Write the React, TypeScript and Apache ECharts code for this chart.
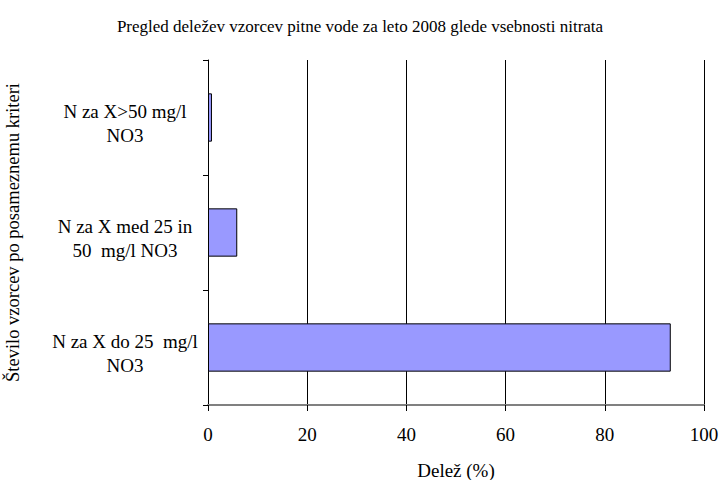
import React, { useEffect, useRef } from "react";
import * as echarts from "echarts";

const categories = [
  "N za X do 25  mg/l\nNO3",
  "N za X med 25 in\n50  mg/l NO3",
  "N za X>50 mg/l\nNO3",
];
const values = [93.3, 5.9, 0.8];
const titleText = "Pregled deležev vzorcev pitne vode za leto 2008 glede vsebnosti nitrata";
const xName = "Delež (%)";
const yName = "Število vzorcev po posameznemu kriteri";

const FONT = "'Liberation Serif', 'DejaVu Serif', serif";
const txt = (size: number) => ({
  fontFamily: FONT,
  fontSize: size,
  fontWeight: "normal" as const,
  fontStyle: "normal" as const,
  color: "#000",
});

export default function App() {
  const ref = useRef<HTMLDivElement>(null);
  useEffect(() => {
    document.body.style.margin = "0";
    if (!ref.current) return;
    const chart = echarts.init(ref.current, undefined, { renderer: "svg" });
    chart.setOption({
      animation: false,
      backgroundColor: "#ffffff",
      textStyle: { fontFamily: FONT },
      title: {
        text: titleText,
        left: "center",
        top: 13,
        textStyle: txt(17),
      },
      grid: { left: 208, right: 16, top: 60, bottom: 75, outerBoundsMode: "none", containLabel: false },
      xAxis: {
        type: "value",
        min: 0,
        max: 100,
        interval: 20,
        name: xName,
        nameLocation: "middle",
        nameGap: 56,
        nameTextStyle: txt(19),
        axisLine: { show: true, lineStyle: { color: "#808080", width: 2 } },
        axisTick: { show: true, length: 6, lineStyle: { color: "#000" } },
        axisLabel: { ...txt(19), margin: 20 },
        splitLine: { show: true, lineStyle: { color: "#000", width: 1 } },
      },
      yAxis: {
        type: "category",
        data: categories,
        name: yName,
        nameLocation: "middle",
        nameGap: 186,
        nameRotate: 90,
        nameTextStyle: txt(18.5),
        axisLine: { show: true, lineStyle: { color: "#000", width: 1 } },
        axisTick: { show: true, length: 5, lineStyle: { color: "#000" } },
        axisLabel: {
          ...txt(19),
          align: "center",
          margin: 83,
          formatter: (v: string) =>
            "{s| }\n" + v.split("\n").map((l) => `{t|${l}}`).join("\n"),
          rich: {
            s: { fontSize: 2, lineHeight: 12 },
            t: { ...txt(19), lineHeight: 24, align: "center" },
          },
        },
      },
      series: [
        {
          type: "bar",
          data: values,
          barWidth: "42%",
          itemStyle: { color: "#9999FF", borderColor: "#000", borderWidth: 1 },
        },
      ],
    });
    return () => chart.dispose();
  }, []);
  return <div ref={ref} style={{ width: 720, height: 480 }} />;
}
